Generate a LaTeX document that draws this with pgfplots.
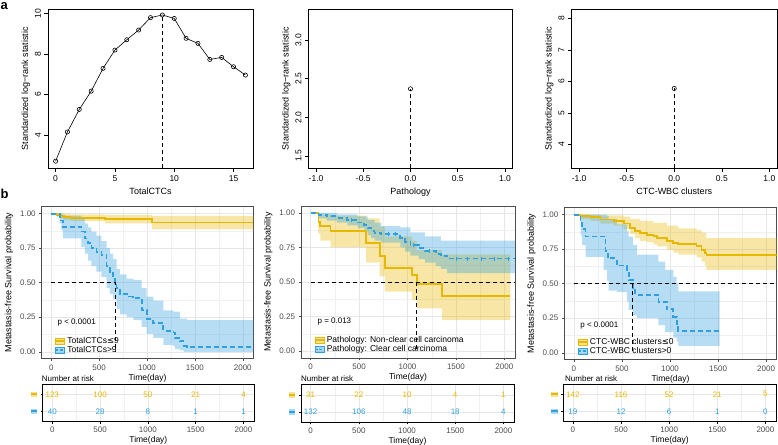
\documentclass[border=0pt]{standalone}
\usepackage{fontspec}
\setmainfont{Liberation Sans}
\newfontfamily\dejavu{DejaVu Sans}
\usepackage{pgfplots}
\pgfplotsset{compat=1.18}
\usepgfplotslibrary{fillbetween}

\definecolor{ycol}{HTML}{E7B800}
\definecolor{bcol}{HTML}{2E9FDF}
\definecolor{tickgray}{HTML}{4D4D4D}
\definecolor{gridgray}{HTML}{E6E6E6}

\newcommand{\fs}[1]{\fontsize{#1}{#1}\selectfont}
\newcommand{\leqs}{{\dejavu ≤}}
\newcommand{\ykey}{{\color{ycol!40}\rule[-1.8pt]{6.5pt}{5.5pt}}\llap{{\color{ycol}\rule[0.2pt]{6.5pt}{1.8pt}}}}
\newcommand{\bkey}{{\color{bcol!40}\rule[-1.8pt]{6.5pt}{5.5pt}}\llap{{\color{bcol}\rule[0.2pt]{6.5pt}{1.8pt}}}}

\pgfplotsset{
  rbase/.style={
    scale only axis, width=205pt, height=159pt,
    axis line style={black, line width=0.6pt},
    tick align=outside, major tick length=3.5pt,
    tick style={black, line width=0.6pt},
    xtick pos=bottom, ytick pos=left,
    ticklabel style={font=\fs{8.5}},
    yticklabel style={rotate=90, anchor=south},
    label style={font=\fs{9}},
    ylabel={Standardized log−rank statistic},
    ylabel style={yshift=-2pt},
  },
  km/.style={
    scale only axis, height=152pt,
    xmin=-100, xmax=2110, ymin=-0.05, ymax=1.05,
    xtick={0,500,1000,1500,2000}, xticklabels={0,500,1000,1500,2000},
    minor xtick={250,750,1250,1750},
    ytick={0,0.25,0.5,0.75,1}, yticklabels={0.00,0.25,0.50,0.75,1.00},
    minor ytick={0.125,0.375,0.625,0.875},
    grid=both,
    major grid style={gridgray, line width=0.5pt},
    minor grid style={gridgray!60, line width=0.3pt},
    axis line style={tickgray, line width=0.6pt},
    tick align=outside, major tick length=2.5pt, minor tick length=0pt,
    tick style={tickgray, line width=0.5pt},
    xtick pos=bottom, ytick pos=left,
    ticklabel style={font=\fs{8}, text=tickgray},
    xlabel={Time(day)}, ylabel={Metastasis-free Survival probability},
    xlabel style={font=\fs{8.5}, yshift=3pt},
    ylabel style={font=\fs{9}},
    legend style={at={(axis description cs:0.055,0.01)}, anchor=south west,
      draw=none, fill=none, font=\fs{8.5}, row sep=-2.5pt, inner sep=1pt,
      cells={anchor=west}},
    legend cell align=left,
  },
  risk/.style={
    scale only axis, height=37.7pt,
    xmin=-100, xmax=2110, ymin=0.4, ymax=2.6,
    xtick={0,500,1000,1500,2000}, xticklabels={0,500,1000,1500,2000},
    minor xtick={250,750,1250,1750},
    ytick={1,2}, yticklabels={\bkey,\ykey},
    grid=both,
    major grid style={gridgray, line width=0.5pt},
    minor grid style={gridgray!60, line width=0.3pt},
    axis line style={black, line width=0.7pt},
    tick align=outside, major tick length=2pt, minor tick length=0pt,
    tick style={black, line width=0.5pt},
    xtick pos=bottom, ytick pos=left,
    ticklabel style={font=\fs{8}, text=tickgray},
    xlabel={Time(day)}, xlabel style={font=\fs{8.5}, yshift=3pt},
  },
  ykey/.style={legend image code/.code={
    \fill[ycol, fill opacity=0.4] (0pt,-3pt) rectangle (9pt,3pt);
    \draw[ycol, line width=1.8pt] (0pt,0pt) -- (9pt,0pt);}},
  bkey/.style={legend image code/.code={
    \fill[bcol, fill opacity=0.4] (0pt,-3pt) rectangle (9pt,3pt);
    \draw[bcol, line width=1.8pt, dash pattern=on 3pt off 1.5pt] (0pt,0pt) -- (9pt,0pt);}},
  ycurve/.style={const plot, ycol, line width=1.8pt, forget plot},
  bcurve/.style={const plot, bcol, line width=1.8pt, dash pattern=on 5pt off 3pt, forget plot},
  yband/.style={ycol, fill opacity=0.35, draw=none, forget plot},
  bband/.style={bcol, fill opacity=0.35, draw=none, forget plot},
  medline/.style={black, line width=0.9pt, dash pattern=on 4pt off 3pt, forget plot},
  numrow/.style={draw=none, mark=none, nodes near coords, point meta=explicit symbolic,
    every node near coord/.style={anchor=center, font=\fs{8}, text=#1}, forget plot},
}

\begin{document}
\begin{tikzpicture}

\node[anchor=base west, font=\fs{13}\bfseries, inner sep=0pt] at (0.5pt,434.7pt) {a};
\node[anchor=base west, font=\fs{13}\bfseries, inner sep=0pt] at (0.5pt,245pt) {b};

% ---------- a: cut-point scans ----------
\begin{axis}[rbase, at={(48pt,434.7pt)}, anchor=north west,
  xmin=-0.64, xmax=16.64, ymin=2.37, ymax=10.2,
  xtick={0,5,10,15}, xticklabels={0,5,10,15},
  ytick={4,6,8,10}, yticklabels={4,6,8,10},
  xlabel={TotalCTCs}]
  \addplot[black, line width=0.6pt, dash pattern=on 4pt off 3pt] coordinates {(9,2.37)(9,9.92)};
  \addplot[black, line width=0.6pt, mark=o, mark size=2.1pt,
    mark options={fill=white, solid}] coordinates {
    (0,2.72)(1,4.16)(2,5.27)(3,6.17)(4,7.29)(5,8.19)(6,8.70)(7,9.18)(8,9.79)
    (9,9.92)(10,9.75)(11,8.77)(12,8.52)(13,7.73)(14,7.83)(15,7.37)(16,6.96)};
\end{axis}

\begin{axis}[rbase, width=204pt, at={(308.5pt,434.7pt)}, anchor=north west,
  xmin=-1.08, xmax=1.08, ymin=1.34, ymax=3.40,
  xtick={-1,-0.5,0,0.5,1}, xticklabels={-1.0,-0.5,0.0,0.5,1.0},
  ytick={1.5,2,2.5,3}, yticklabels={1.5,2.0,2.5,3.0},
  xlabel={Pathology}]
  \addplot[black, line width=0.6pt, dash pattern=on 4pt off 3pt] coordinates {(0,1.34)(0,2.37)};
  \addplot[black, only marks, mark=o, mark size=2.1pt, mark options={fill=white, line width=0.6pt}]
    coordinates {(0,2.37)};
\end{axis}

\begin{axis}[rbase, width=205.5pt, at={(571.5pt,434.7pt)}, anchor=north west,
  xmin=-1.08, xmax=1.08, ymin=3.25, ymax=8.29,
  xtick={-1,-0.5,0,0.5,1}, xticklabels={-1.0,-0.5,0.0,0.5,1.0},
  ytick={4,5,6,7,8}, yticklabels={4,5,6,7,8},
  xlabel={CTC-WBC clusters}]
  \addplot[black, line width=0.6pt, dash pattern=on 4pt off 3pt] coordinates {(0,3.25)(0,5.78)};
  \addplot[black, only marks, mark=o, mark size=2.1pt, mark options={fill=white, line width=0.6pt}]
    coordinates {(0,5.78)};
\end{axis}

% ---------- b1: TotalCTCs ----------
\begin{axis}[km, width=211.6pt, at={(41.7pt,237.3pt)}, anchor=north west]
  \addlegendimage{ykey}\addlegendentry{TotalCTCs\leqs9}
  \addlegendimage{bkey}\addlegendentry{TotalCTCs>9}
  \addplot[name path=ua, draw=none, const plot, forget plot] coordinates {
    (0,1)(60,1)(200,0.995)(560,0.99)(1050,0.983)(2110,0.983)};
  \addplot[name path=la, draw=none, const plot, forget plot] coordinates {
    (0,1)(60,0.975)(90,0.965)(130,0.955)(200,0.948)(560,0.93)(1050,0.885)(2110,0.885)};
  \addplot[yband] fill between[of=ua and la];
  \addplot[name path=ub, draw=none, const plot, forget plot] coordinates {
    (0,1)(87,1)(122,0.985)(315,0.96)(350,0.93)(385,0.90)(420,0.87)(472,0.84)(524,0.80)
    (577,0.75)(612,0.71)(647,0.67)(682,0.60)(717,0.56)(787,0.53)(857,0.52)(944,0.46)
    (997,0.40)(1066,0.37)(1171,0.30)(1276,0.29)(1346,0.24)(1416,0.23)(2110,0.23)};
  \addplot[name path=lb, draw=none, const plot, forget plot] coordinates {
    (0,1)(87,0.93)(105,0.88)(122,0.82)(315,0.76)(350,0.71)(385,0.66)(420,0.62)(472,0.58)
    (524,0.54)(577,0.46)(612,0.42)(647,0.38)(682,0.31)(717,0.27)(787,0.25)(857,0.23)
    (944,0.18)(997,0.13)(1066,0.10)(1171,0.05)(1276,0.04)(1294,0.02)(1346,0.01)(1381,0)(2110,0)};
  \addplot[bband] fill between[of=ub and lb];
  \addplot[ycurve] coordinates {
    (0,1)(60,0.992)(90,0.984)(130,0.976)(200,0.968)(560,0.960)(1050,0.935)(2110,0.935)};
  \addplot[bcurve] coordinates {
    (0,1)(87,0.975)(105,0.95)(122,0.904)(315,0.87)(350,0.82)(385,0.785)(420,0.75)(472,0.72)
    (524,0.70)(577,0.62)(612,0.58)(647,0.53)(664,0.50)(682,0.46)(717,0.42)(787,0.40)
    (857,0.39)(944,0.30)(997,0.24)(1066,0.21)(1171,0.15)(1276,0.14)(1294,0.10)(1346,0.077)
    (1381,0.04)(1416,0.036)(2110,0.036)};
  \addplot[medline] coordinates {(0,0.5)(675,0.5)(675,0)};
  \node[anchor=west, font=\fs{8}] at (axis cs:30,0.21) {p < 0.0001};
\end{axis}

\node[anchor=base west, font=\fs{8}, inner sep=0pt] at (41.7pt,62.3pt) {Number at risk};
\begin{axis}[risk, width=211.3pt, at={(42.7pt,60pt)}, anchor=north west]
  \addplot[numrow=ycol] coordinates {(0,2)[123] (500,2)[100] (1000,2)[50] (1500,2)[21] (2000,2)[4]};
  \addplot[numrow=bcol] coordinates {(0,1)[40] (500,1)[28] (1000,1)[8] (1500,1)[1] (2000,1)[1]};
\end{axis}

% ---------- b2: Pathology ----------
\begin{axis}[km, width=214pt, at={(301pt,238pt)}, anchor=north west]
  \addlegendimage{ykey}\addlegendentry{Pathology: Non-clear cell carcinoma}
  \addlegendimage{bkey}\addlegendentry{Pathology: Clear cell carcinoma}
  \addplot[name path=uc, draw=none, const plot, forget plot] coordinates {
    (0,1)(80,1)(100,0.99)(205,0.98)(573,0.96)(712,0.90)(765,0.83)(1045,0.80)(1095,0.73)
    (1355,0.70)(2063,0.70)};
  \addplot[name path=lc, draw=none, const plot, forget plot] coordinates {
    (0,1)(80,0.85)(100,0.80)(205,0.75)(573,0.64)(712,0.54)(765,0.43)(1045,0.37)(1095,0.31)
    (1355,0.226)(2063,0.226)};
  \addplot[yband] fill between[of=uc and lc];
  \addplot[name path=ud, draw=none, const plot, forget plot] coordinates {
    (0,1)(81,1)(274,0.99)(484,0.975)(589,0.95)(660,0.93)(730,0.905)(925,0.895)(1030,0.86)
    (1180,0.83)(1345,0.80)(2110,0.80)};
  \addplot[name path=ld, draw=none, const plot, forget plot] coordinates {
    (0,1)(81,0.96)(168,0.945)(274,0.93)(379,0.91)(484,0.89)(554,0.865)(589,0.84)(625,0.82)
    (660,0.80)(730,0.785)(925,0.75)(975,0.72)(1030,0.69)(1115,0.665)(1180,0.64)(1290,0.615)
    (1345,0.595)(1410,0.565)(2110,0.565)};
  \addplot[bband] fill between[of=ud and ld];
  \addplot[ycurve] coordinates {
    (0,1)(80,0.935)(100,0.903)(205,0.87)(573,0.78)(712,0.69)(765,0.60)(1045,0.548)
    (1095,0.483)(1355,0.398)(2063,0.398)};
  \addplot[bcurve] coordinates {
    (0,1)(81,0.985)(168,0.975)(274,0.965)(379,0.95)(484,0.93)(554,0.91)(589,0.89)(625,0.87)
    (660,0.855)(730,0.845)(925,0.82)(975,0.79)(1030,0.765)(1115,0.745)(1180,0.725)(1290,0.705)
    (1345,0.69)(1410,0.67)(2110,0.67)};
  \addplot[bcol, only marks, mark=|, mark size=2pt, line width=0.6pt, forget plot] coordinates {
    (420,0.95)(800,0.845)(870,0.845)(1060,0.765)(1230,0.725)(1500,0.67)(1620,0.67)
    (1760,0.67)(1900,0.67)(2040,0.67)};
  \addplot[medline] coordinates {(0,0.5)(2110,0.5)};
  \addplot[medline] coordinates {(1095,0.5)(1095,0)};
  \node[anchor=west, font=\fs{8}] at (axis cs:35,0.214) {p = 0.013};
\end{axis}

\node[anchor=base west, font=\fs{8}, inner sep=0pt] at (301pt,62.3pt) {Number at risk};
\begin{axis}[risk, width=213pt, at={(301pt,59.3pt)}, anchor=north west]
  \addplot[numrow=ycol] coordinates {(0,2)[31] (500,2)[22] (1000,2)[10] (1500,2)[4] (2000,2)[1]};
  \addplot[numrow=bcol] coordinates {(0,1)[132] (500,1)[106] (1000,1)[48] (1500,1)[18] (2000,1)[4]};
\end{axis}

% ---------- b3: CTC-WBC clusters ----------
\begin{axis}[km, width=212.4pt, at={(564.3pt,236.3pt)}, anchor=north west]
  \addlegendimage{ykey}\addlegendentry{CTC-WBC clusters\leqs0}
  \addlegendimage{bkey}\addlegendentry{CTC-WBC clusters>0}
  \addplot[name path=ue, draw=none, const plot, forget plot] coordinates {
    (0,1)(69,1)(276,0.995)(517,0.985)(586,0.97)(690,0.955)(828,0.94)(966,0.92)(1086,0.90)
    (1276,0.89)(1328,0.87)(1379,0.83)(2110,0.83)};
  \addplot[name path=le, draw=none, const plot, forget plot] coordinates {
    (0,1)(69,0.97)(172,0.955)(276,0.935)(414,0.92)(517,0.895)(586,0.86)(638,0.83)(690,0.81)
    (759,0.80)(828,0.785)(862,0.77)(966,0.745)(1034,0.725)(1086,0.71)(1276,0.69)(1328,0.66)
    (1362,0.63)(1379,0.60)(2110,0.60)};
  \addplot[yband] fill between[of=ue and le];
  \addplot[name path=uf, draw=none, const plot, forget plot] coordinates {
    (0,1)(69,1)(310,1)(345,0.99)(362,0.97)(448,0.93)(552,0.88)(569,0.84)(614,0.78)(655,0.71)
    (879,0.66)(948,0.60)(1034,0.55)(1069,0.50)(1086,0.445)(1517,0.445)};
  \addplot[name path=lf, draw=none, const plot, forget plot] coordinates {
    (0,1)(69,0.85)(86,0.78)(121,0.695)(310,0.60)(345,0.52)(362,0.45)(448,0.44)(552,0.37)
    (569,0.31)(614,0.27)(655,0.25)(879,0.20)(948,0.15)(1034,0.11)(1069,0.08)(1086,0.05)
    (1517,0.05)};
  \addplot[bband] fill between[of=uf and lf];
  \addplot[ycurve] coordinates {
    (0,1)(69,0.99)(172,0.98)(276,0.965)(414,0.955)(517,0.935)(586,0.905)(638,0.88)(690,0.865)
    (759,0.855)(828,0.845)(862,0.83)(966,0.81)(1034,0.795)(1086,0.785)(1276,0.77)(1328,0.745)
    (1362,0.72)(1379,0.705)(2110,0.705)};
  \addplot[bcurve] coordinates {
    (0,1)(69,0.947)(86,0.895)(121,0.842)(328,0.737)(352,0.684)(448,0.631)(552,0.579)
    (569,0.526)(614,0.47)(638,0.42)(879,0.368)(966,0.315)(1034,0.26)(1069,0.21)(1086,0.158)
    (1517,0.158)};
  \addplot[medline] coordinates {(0,0.5)(2110,0.5)};
  \addplot[medline] coordinates {(614,0.5)(614,0)};
  \node[anchor=west, font=\fs{8}] at (axis cs:30,0.20) {p < 0.0001};
\end{axis}

\node[anchor=base west, font=\fs{8}, inner sep=0pt] at (565pt,62.3pt) {Number at risk};
\begin{axis}[risk, width=212.7pt, at={(563.3pt,60pt)}, anchor=north west]
  \addplot[numrow=ycol] coordinates {(0,2)[142] (500,2)[116] (1000,2)[52] (1500,2)[21] (2000,2)[5]};
  \addplot[numrow=bcol] coordinates {(0,1)[19] (500,1)[12] (1000,1)[6] (1500,1)[1] (2000,1)[0]};
\end{axis}

\pgfresetboundingbox
\path[use as bounding box] (0pt,0pt) rectangle (778pt,444pt);
\end{tikzpicture}
\end{document}
